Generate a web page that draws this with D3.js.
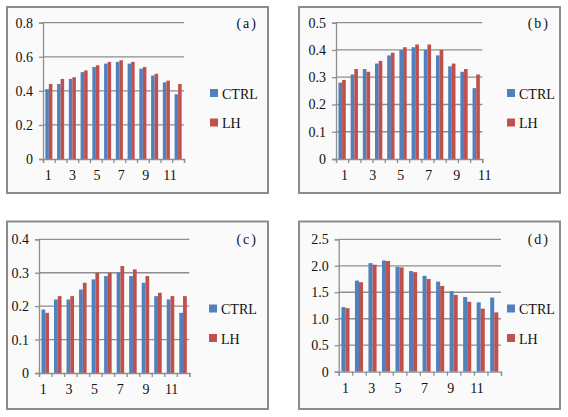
<!DOCTYPE html>
<html>
<head>
<meta charset="utf-8">
<script src="https://cdn.jsdelivr.net/npm/d3@7"></script>
</head>
<body style="margin:0;background:white">
<svg></svg>
<script>
"use strict";

// data
var categories = [1, 2, 3, 4, 5, 6, 7, 8, 9, 10, 11, 12];
var seriesNames = ['CTRL', 'LH'];
var xTickLabels = [1, 3, 5, 7, 9, 11];

var ctrlA = [0.41, 0.44, 0.47, 0.51, 0.54, 0.56, 0.57, 0.56, 0.53, 0.49, 0.45, 0.38];
var lhA = [0.44, 0.47, 0.48, 0.52, 0.55, 0.57, 0.58, 0.57, 0.54, 0.50, 0.46, 0.44];
var yTicksA = [0, 0.2, 0.4, 0.6, 0.8];

var ctrlB = [0.28, 0.31, 0.33, 0.35, 0.38, 0.40, 0.41, 0.40, 0.38, 0.34, 0.32, 0.26];
var lhB = [0.29, 0.33, 0.32, 0.36, 0.39, 0.41, 0.42, 0.42, 0.40, 0.35, 0.33, 0.31];
var yTicksB = [0, 0.1, 0.2, 0.3, 0.4, 0.5];

var ctrlC = [0.19, 0.22, 0.22, 0.25, 0.28, 0.29, 0.30, 0.29, 0.27, 0.23, 0.22, 0.18];
var lhC = [0.18, 0.23, 0.23, 0.27, 0.30, 0.30, 0.32, 0.31, 0.29, 0.24, 0.23, 0.23];
var yTicksC = [0, 0.1, 0.2, 0.3, 0.4];

var ctrlD = [1.22, 1.72, 2.05, 2.10, 1.98, 1.90, 1.81, 1.70, 1.52, 1.41, 1.31, 1.40];
var lhD = [1.20, 1.69, 2.02, 2.09, 1.97, 1.88, 1.75, 1.62, 1.45, 1.32, 1.19, 1.12];
var yTicksD = [0, 0.5, 1.0, 1.5, 2.0, 2.5];

var settings = {
    svg: { width: 568, height: 417 },
    colors: { CTRL: '#4f81bd', LH: '#c0504d' },
    grid: '#8e8e8e',
    border: '#8c8c8c',
    text: '#111',
    font: "'Liberation Serif'",
    fontSize: 14
};

var fmt = d => d === 0 ? '0' : d3.format('.1f')(d);

// layout per panel (pixels)
var panels = [
    {
        tag: '(a)', ctrl: ctrlA, lh: lhA, ticks: yTicksA,
        box: { x: 7, y: 7, w: 261, h: 186 },
        plot: { left: 43, right: 184, top: 22.7, bottom: 159 },
        legend: { x: 210, y: 89 }, labelShift: -0.6, labelStretch: 1.036
    }, {
        tag: '(b)', ctrl: ctrlB, lh: lhB, ticks: yTicksB,
        box: { x: 299, y: 7, w: 261, h: 186 },
        plot: { left: 336, right: 482.3, top: 22.7, bottom: 159 },
        legend: { x: 507, y: 89 }, labelShift: 2.5, labelStretch: 1.15
    }, {
        tag: '(c)', ctrl: ctrlC, lh: lhC, ticks: yTicksC,
        box: { x: 7, y: 221.5, w: 261, h: 187.5 },
        plot: { left: 39, right: 189.3, top: 239.3, bottom: 373 },
        legend: { x: 209, y: 304.5 }, labelShift: -2, labelStretch: 1.025
    }, {
        tag: '(d)', ctrl: ctrlD, lh: lhD, ticks: yTicksD,
        box: { x: 299, y: 221.5, w: 261, h: 187.5 },
        plot: { left: 338.7, right: 501, top: 239.3, bottom: 371.7 },
        legend: { x: 507, y: 304.5 }, labelShift: 0, labelStretch: 0.973
    }
];

var svg = d3.select('svg')
    .attr('width', settings.svg.width)
    .attr('height', settings.svg.height)
    .attr('font-family', settings.font)
    .attr('font-size', settings.fontSize);

panels.forEach(p => {
    var g = svg.append('g').attr('class', 'panel');

    // frame
    g.append('rect')
        .attr('x', p.box.x)
        .attr('y', p.box.y)
        .attr('width', p.box.w)
        .attr('height', p.box.h)
        .attr('fill', '#fafafa')
        .attr('stroke', settings.border)
        .attr('stroke-width', 2);

    var y = d3.scaleLinear()
        .domain([0, d3.max(p.ticks)])
        .range([p.plot.bottom, p.plot.top]);

    var x0 = d3.scaleBand()
        .domain(categories)
        .range([p.plot.left, p.plot.right])
        .paddingInner(0.4)
        .paddingOuter(0.2);

    var x1 = d3.scaleBand()
        .domain(seriesNames)
        .range([0, x0.bandwidth()]);

    var step = x0.step();
    var first = p.plot.left + step / 2 + p.labelShift;
    var xl = d3.scaleLinear()
        .domain([1, 11])
        .range([first, first + 10 * step * p.labelStretch]);

    // gridlines
    g.append('g')
        .selectAll('line')
        .data(p.ticks.filter(d => d > 0))
        .enter()
        .append('line')
        .attr('x1', p.plot.left)
        .attr('x2', p.plot.right)
        .attr('y1', d => y(d))
        .attr('y2', d => y(d))
        .attr('stroke', settings.grid)
        .attr('stroke-width', 1.3);

    // bars
    var rows = categories.map((c, i) => ({ cat: c, CTRL: p.ctrl[i], LH: p.lh[i] }));
    g.append('g')
        .selectAll('g')
        .data(rows)
        .enter()
        .append('g')
        .attr('transform', d => `translate(${x0(d.cat)},0)`)
        .selectAll('rect')
        .data(d => seriesNames.map(s => ({ key: s, value: d[s] })))
        .enter()
        .append('rect')
        .attr('x', d => x1(d.key))
        .attr('y', d => y(d.value))
        .attr('width', x1.bandwidth())
        .attr('height', d => y(0) - y(d.value))
        .attr('fill', d => settings.colors[d.key]);

    // y axis
    var yAxis = g.append('g')
        .attr('transform', `translate(${p.plot.left},0)`)
        .call(d3.axisLeft(y).tickValues(p.ticks).tickFormat(fmt).tickSize(4).tickPadding(6));

    // x axis, ticks on category boundaries
    var bounds = d3.range(categories.length + 1).map(i => p.plot.left + i * step);
    var xAxis = g.append('g')
        .attr('transform', `translate(0,${p.plot.bottom})`)
        .call(d3.axisBottom(d3.scaleIdentity().domain([p.plot.left, p.plot.right]))
            .tickValues(bounds).tickSize(4).tickFormat(''));

    g.append('g')
        .selectAll('text')
        .data(xTickLabels)
        .enter()
        .append('text')
        .attr('x', d => xl(d))
        .attr('y', p.plot.bottom + 21)
        .attr('text-anchor', 'middle')
        .attr('fill', settings.text)
        .text(d => d);

    [yAxis, xAxis].forEach(a => {
        a.attr('font-family', settings.font).attr('font-size', settings.fontSize);
        a.select('.domain').attr('stroke', settings.grid).attr('stroke-width', 1.3);
        a.selectAll('.tick line').attr('stroke', settings.grid).attr('stroke-width', 1.3);
        a.selectAll('.tick text').attr('fill', settings.text);
    });

    // panel tag
    g.append('text')
        .attr('x', p.box.x + p.box.w - 10)
        .attr('y', p.plot.top + 5)
        .attr('text-anchor', 'end')
        .attr('fill', settings.text)
        .attr('letter-spacing', 2)
        .text(p.tag);

    // legend
    var legend = g.append('g')
        .selectAll('g')
        .data(seriesNames)
        .enter()
        .append('g')
        .attr('transform', (d, i) => `translate(${p.legend.x},${p.legend.y + i * 29.5})`);

    legend.append('rect')
        .attr('width', 8)
        .attr('height', 8)
        .attr('fill', d => settings.colors[d]);

    legend.append('text')
        .attr('x', 12)
        .attr('y', 9.5)
        .attr('fill', settings.text)
        .text(d => d);
});
</script>
</body>
</html>
